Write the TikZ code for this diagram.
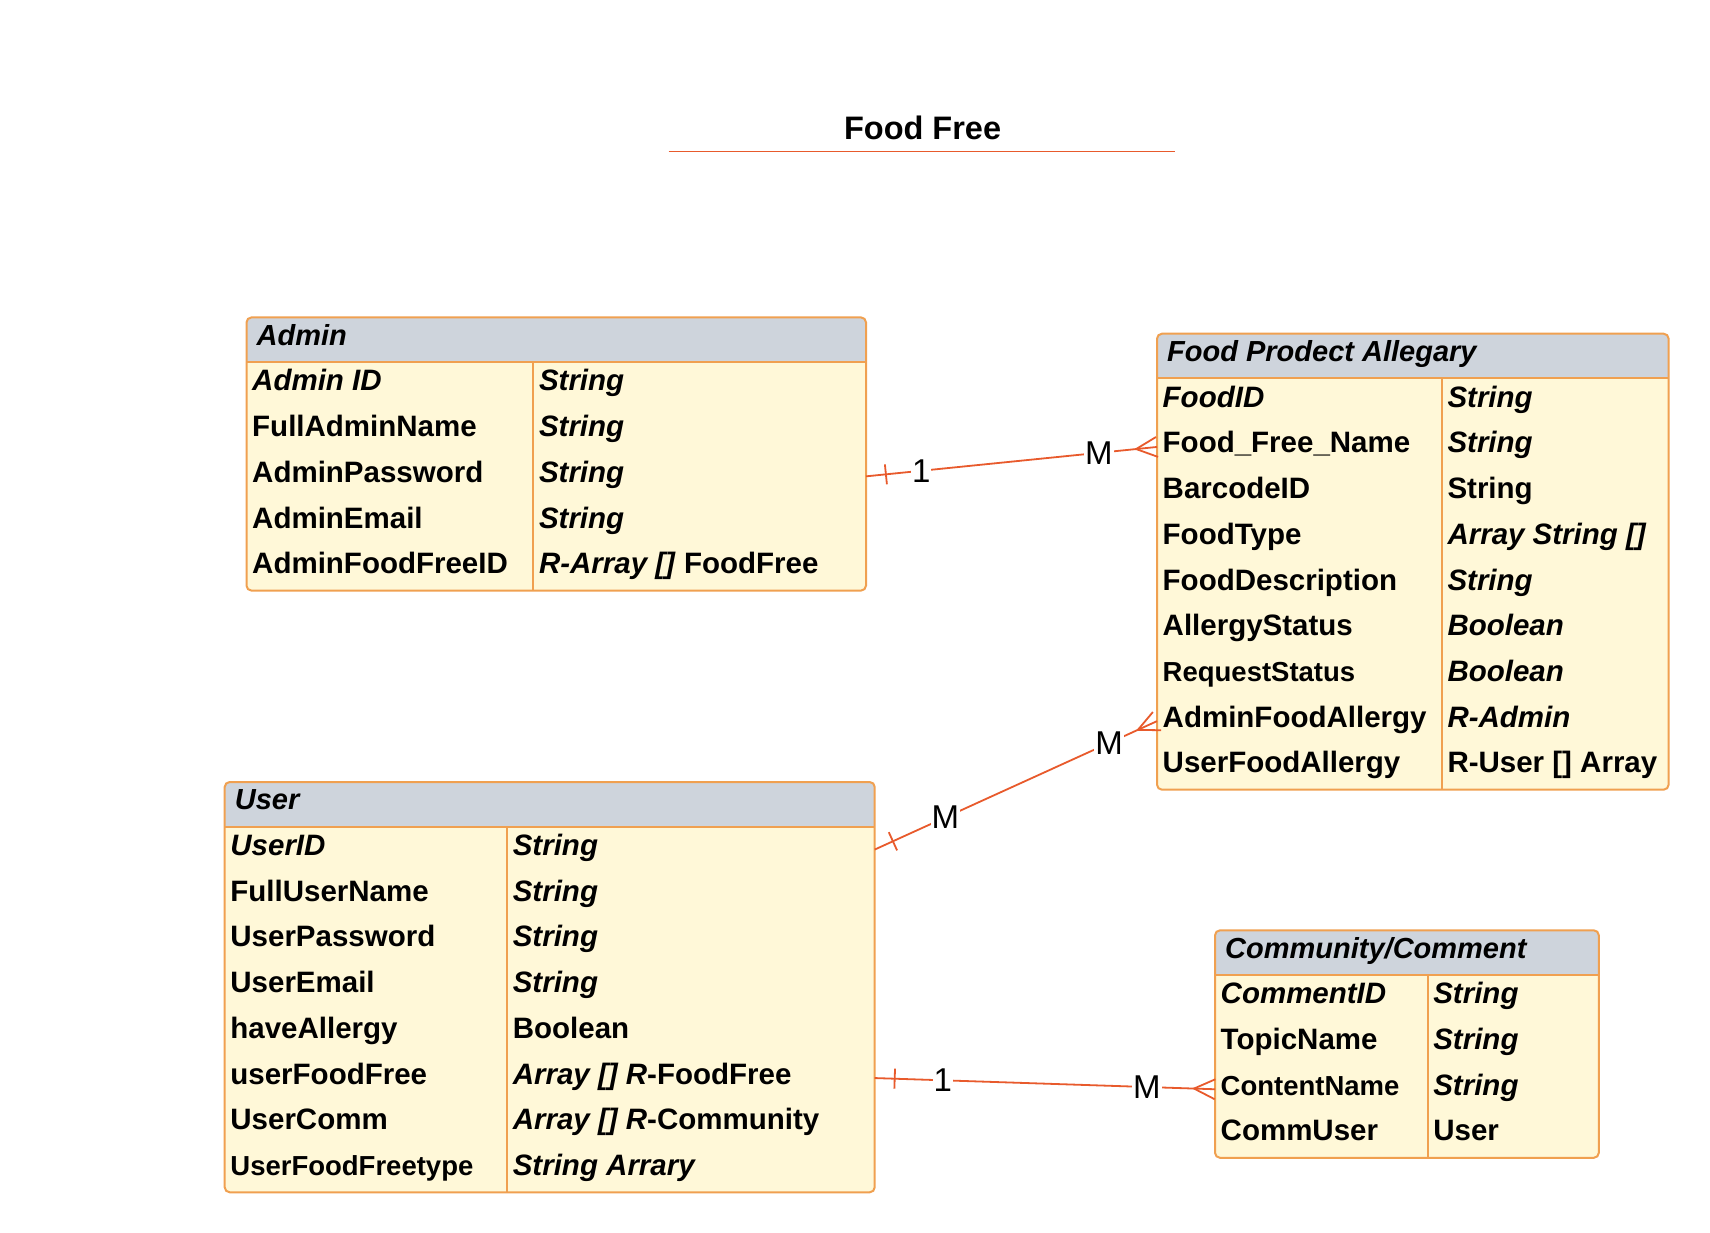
\documentclass[tikz,border=0pt]{standalone}
\usepackage{fontspec}
\setmainfont{Liberation Sans}
\usetikzlibrary{calc}

\definecolor{rowfill}{HTML}{FFF8D8}
\definecolor{headfill}{HTML}{CED4DC}
\definecolor{boxline}{HTML}{F0A050}
\definecolor{linkline}{HTML}{E85A2C}

\newcommand\sm{\fontsize{27.5}{32}\selectfont}

\tikzset{
  border/.style={draw=boxline, line width=2pt},
  rowspan/.style={inner sep=0pt, outer sep=0pt, minimum height=45.7pt},
  celltext/.style={inner sep=0pt, font=\fontsize{29.5}{34}\selectfont\bfseries},
  headtext/.style={inner sep=0pt, font=\fontsize{29}{34}\selectfont\bfseries\itshape},
  titletext/.style={inner sep=0pt, font=\fontsize{32.5}{38}\selectfont\bfseries},
  link/.style={draw=linkline, line width=1.8pt},
  card/.style={fill=white, inner sep=1pt, font=\fontsize{33}{38}\selectfont},
}

% ER table: #1 key, #2 left, #3 right, #4 top, #5 column divider, #6 title, #7 rows
\newcommand\ertable[7]{%
  \pgfmathsetmacro\hb{#4+44.7}
  \foreach \n/\t [count=\i] in {#7} {\xdef\nrows{\i}}
  \pgfmathsetmacro\yb{\hb+\nrows*45.7}
  \pgfmathsetmacro\w{#3-#2}
  \fill[rowfill, rounded corners=5pt] (#2,#4) rectangle (#3,\yb);
  \begin{scope}
    \clip[rounded corners=5pt] (#2,#4) rectangle (#3,\yb);
    \fill[headfill] (#2,#4) rectangle (#3,\hb);
  \end{scope}
  \draw[border] (#2,\hb) -- (#3,\hb);
  \draw[border] (#5,\hb) -- (#5,\yb);
  \draw[border, rounded corners=5pt] (#2,#4) rectangle (#3,\yb);
  \node[headtext, anchor=base west] (#1-head) at ({#2+10},{(#4+\hb)/2+5.5}) {#6};
  \foreach \n/\t [count=\i] in {#7} {
    \pgfmathsetmacro\yc{\hb+(\i-0.5)*45.7}
    \node[rowspan, minimum width=\w pt] (#1-\i) at ({(#2+#3)/2},\yc) {};
    \node[celltext, anchor=base west] (#1-\i-name) at ({#2+5.5},{\yc+6}) {\n};
    \node[celltext, anchor=base west] (#1-\i-type) at ({#5+5.5},{\yc+6}) {\t};
  }
}

% Relationship: bar at #1, crow's foot at #2, labels #3/#4 placed at positions #5/#6
\newcommand\erlink[6]{%
  \draw[link] (#1) -- node[card, pos=#5] {#3} node[card, pos=#6] {#4} (#2);
  \draw[link] ($(#1)!20pt!(#2)!10pt!90:(#2)$) -- ($(#1)!20pt!(#2)!10pt!-90:(#2)$);
  \draw[link] ($(#2)!10pt!90:(#1)$) -- ($(#2)!21pt!(#1)$) -- ($(#2)!10pt!-90:(#1)$);
}

\begin{document}
\begin{tikzpicture}[x=1pt, y=-1pt]
\useasboundingbox[fill=white] (0,0) rectangle (1710,1233);

% title
\node[titletext, anchor=base] (title) at (922.6,139.2) {Food Free};
\coordinate (ruleL) at (668.5,151.6);
\coordinate (ruleR) at (1174.6,151.6);
\draw[link] (ruleL) -- (ruleR);

% tables
\ertable{admin}{246.5}{866}{317.4}{533.3}{Admin}{%
  \textit{Admin ID}/\textit{String},
  FullAdminName/\textit{String},
  AdminPassword/\textit{String},
  AdminEmail/\textit{String},
  AdminFoodFreeID/\textit{R-Array []} FoodFree}

\ertable{food}{1157}{1668.6}{333.7}{1441.8}{Food Prodect Allegary}{%
  \textit{FoodID}/\textit{String},
  Food\_Free\_Name/\textit{String},
  BarcodeID/String,
  FoodType/\textit{Array String []},
  FoodDescription/\textit{String},
  AllergyStatus/\textit{Boolean},
  {\sm RequestStatus}/\textit{Boolean},
  AdminFoodAllergy/\textit{R-Admin},
  UserFoodAllergy/R-User [] Array}

\ertable{user}{224.7}{874.7}{782}{507.1}{User}{%
  \textit{UserID}/\textit{String},
  FullUserName/\textit{String},
  UserPassword/\textit{String},
  UserEmail/\textit{String},
  haveAllergy/Boolean,
  userFoodFree/\textit{Array [] R}-FoodFree,
  UserComm/\textit{Array [] R}-Community,
  {\sm UserFoodFreetype}/\textit{String Arrary}}

\ertable{comm}{1215}{1598.8}{930.3}{1427.6}{Community/Comment}{%
  \textit{CommentID}/\textit{String},
  TopicName/\textit{String},
  {\sm ContentName}/\textit{String},
  CommUser/User}

% relationships
\erlink{admin-3.east}{food-2.west}{1}{M}{0.19}{0.8}
\erlink{user-1.east}{food-8.west}{M}{M}{0.25}{0.83}
\erlink{user-6.east}{comm-3.west}{1}{M}{0.2}{0.8}

\end{tikzpicture}
\end{document}
